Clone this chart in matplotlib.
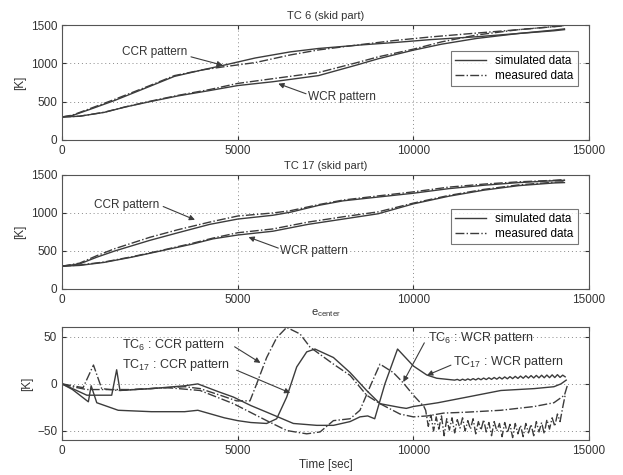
import numpy as np
import matplotlib
matplotlib.use("Agg")
import matplotlib.pyplot as plt

plt.rcParams['font.family'] = ['Liberation Sans', 'DejaVu Sans']
plt.rcParams['mathtext.default'] = 'regular'
plt.rcParams['font.size'] = 8.5

# ---- data ----
# TC 6 (skid part)
t1c = [0, 300, 800, 1500, 2500, 3200, 4000, 4600, 5500, 6500, 7300, 8500, 9500, 10500, 11800, 13000, 14000, 14300]
tc6_ccr_sim = [300, 320, 400, 516, 700, 830, 915, 975, 1070, 1150, 1194, 1240, 1273, 1310, 1347, 1390, 1434, 1450]
tc6_ccr_meas = [300, 325, 410, 530, 710, 840, 915, 955, 1010, 1110, 1175, 1245, 1300, 1345, 1395, 1440, 1480, 1495]
t1w = [0, 500, 1200, 1800, 2500, 3300, 4200, 5000, 6000, 7300, 8400, 9000, 10000, 10800, 11800, 13000, 14000, 14300]
tc6_wcr_sim = [300, 310, 360, 430, 500, 575, 645, 710, 760, 840, 980, 1060, 1172, 1250, 1325, 1390, 1425, 1440]
tc6_wcr_meas = [300, 310, 362, 432, 505, 582, 658, 738, 800, 880, 1010, 1085, 1185, 1280, 1370, 1440, 1478, 1490]

# TC 17 (skid part)
t2c = [0, 500, 1000, 1500, 2500, 3300, 4200, 5000, 6000, 6500, 7300, 8000, 9000, 10000, 11000, 12000, 13000, 14000, 14300]
tc17_ccr_sim = [300, 330, 420, 500, 640, 740, 850, 920, 970, 1010, 1100, 1160, 1210, 1260, 1320, 1365, 1400, 1425, 1430]
tc17_ccr_meas = [300, 340, 440, 530, 680, 780, 880, 960, 1000, 1030, 1110, 1170, 1225, 1278, 1340, 1380, 1410, 1430, 1440]
t2w = [0, 500, 1200, 2000, 2800, 3700, 4300, 5000, 6000, 7000, 8000, 9000, 10000, 11000, 12000, 13000, 14000, 14300]
tc17_wcr_sim = [300, 310, 350, 420, 500, 590, 660, 710, 760, 850, 920, 990, 1120, 1220, 1300, 1360, 1395, 1400]
tc17_wcr_meas = [300, 315, 355, 425, 505, 600, 670, 740, 790, 880, 950, 1015, 1130, 1230, 1310, 1370, 1405, 1410]

# e_center : differences
t_tc17_ccr = [0, 300, 750, 830, 990, 1600, 2546, 3490, 3866, 4620, 5000, 5375, 5825, 6110, 6395, 6680, 6965,
              7200, 7725, 8200, 8670, 9050, 9620, 9800, 10000, 10700, 11530, 12490, 13440, 14000, 14200, 14350]
e_tc17_ccr = [0, -6, -19, -2, -20, -28, -29.5, -29.5, -28, -36, -39, -41, -42, -37, -14, 18, 34,
              37, 28, 12, -7, -21, -25, -26, -24, -20, -14, -7, -5, -3, 0, 4]

t_tc17_wcr = [0, 300, 707, 1415, 1556, 1650, 2546, 3490, 3866, 4430, 4880, 5375, 5825, 6585, 7250, 7725,
              8200, 8480, 8700, 8900, 9190, 9550, 10000, 10380, 10665, 11175,
              11250, 11325, 11400, 11475, 11550, 11625, 11700, 11775, 11850, 11925, 12000, 12075, 12150,
              12225, 12300, 12375, 12450, 12525, 12600, 12675, 12750, 12825, 12900, 12975, 13050, 13125,
              13200, 13275, 13350, 13425, 13500, 13575, 13650, 13725, 13800, 13875, 13950, 14025, 14100,
              14175, 14250, 14320]
e_tc17_wcr = [0, -5, -12, -12, 15, -7, -5, -2, 0, -8, -14, -23, -30, -42, -44, -44,
              -40, -35, -34, -37, 0, 37, 19, 9.5, 6, 4,
              4.8, 3.6, 5.0, 3.8, 5.3, 4.0, 5.6, 4.2, 5.9, 4.4, 6.2, 4.6, 6.5,
              4.8, 6.8, 5.0, 7.1, 5.2, 7.4, 5.4, 7.7, 5.6, 8.0, 5.8, 8.3, 6.0,
              8.6, 6.2, 8.8, 6.3, 9.0, 6.4, 9.2, 6.5, 9.4, 6.6, 9.6, 6.7, 9.8,
              6.9, 9.3, 7.5]

t_tc6_ccr = [0, 300, 600, 896, 1130, 1600, 2500, 3500, 3930, 4500, 4970, 5350, 5540, 5825, 6110, 6395,
             6775, 7060, 7725, 8200, 8670, 9050, 9620, 10000, 10400, 10860, 11530, 12490, 13440, 14000,
             14300, 14380]
e_tc6_ccr = [0, -2, -4, 20, -5, -7, -5, -3, -5, -12, -18, -18, 0, 28, 49, 60,
             53, 39, 21, 9, -12, -21, -32, -35, -34, -31, -30, -28, -24, -20,
             -12, -2]

t_tc6_wcr = [0, 300, 700, 1200, 2000, 3000, 3930, 4880, 5825, 6395, 6965, 7345, 7725, 8200, 8480, 8766,
             9050, 9430, 9715, 10000, 10300,
             10350, 10425, 10500, 10575, 10650, 10725, 10800, 10875, 10950, 11025, 11100, 11175, 11250,
             11325, 11400, 11475, 11550, 11625, 11700, 11775, 11850, 11925, 12000, 12075, 12150, 12225,
             12300, 12375, 12450, 12525, 12600, 12675, 12750, 12825, 12900, 12975, 13050, 13125, 13200,
             13275, 13350, 13425, 13500, 13575, 13650, 13725, 13800, 13875, 13950, 14025, 14100, 14175,
             14250, 14320]
e_tc6_wcr = [0, -3, -6, -6, -6, -4, -7, -21, -39, -49.5, -53, -51, -39, -37, -28, -3,
             21, 12, 1, -12, -24,
             -28, -45, -33, -50, -35, -48, -34, -55, -37, -49, -36, -52, -38,
             -47, -36, -50, -39, -48, -37, -53, -40, -49, -38, -51, -41, -55,
             -40, -50, -42, -56, -41, -52, -43, -57, -42, -53, -44, -56, -42,
             -52, -43, -55, -40, -51, -41, -53, -38, -48, -36, -45, -32, -40,
             -25, -12]

xticks = [0, 5000, 10000, 15000]
kticks = [0, 500, 1000, 1500]
eticks = [-50, 0, 50]

# ---- styling ----
lc = '#3c3c3c'
tc = '#333333'
lw = 1.0

fig = plt.figure(figsize=(6.23, 4.75), dpi=100)
ax1 = fig.add_axes([0.0995, 0.7053, 0.846, 0.242])
ax2 = fig.add_axes([0.0995, 0.3916, 0.846, 0.240])
ax3 = fig.add_axes([0.0995, 0.0728, 0.846, 0.238])


def style(ax, yt, ylim):
    ax.set_xlim(0, 15000)
    ax.set_ylim(*ylim)
    ax.set_xticks(xticks)
    ax.set_yticks(yt)
    ax.grid(True, linestyle=(0, (1, 3)), color='#8a8a8a', linewidth=0.7)
    ax.tick_params(direction='in', length=3, colors=tc, labelsize=8.5, top=True, right=True)
    for s in ax.spines.values():
        s.set_color('#555555')
        s.set_linewidth(0.8)
    ax.set_ylabel('[K]', color=tc, labelpad=3)


def arrow(ax, tip, tail):
    ax.annotate('', xy=tip, xytext=tail,
                arrowprops=dict(arrowstyle='-|>', color=lc, lw=0.8, mutation_scale=8,
                                shrinkA=0, shrinkB=0))


# panel 1
ax1.plot(t1c, tc6_ccr_sim, '-', color=lc, lw=lw, label='simulated data')
ax1.plot(t1c, tc6_ccr_meas, '-.', color=lc, lw=lw, label='measured data')
ax1.plot(t1w, tc6_wcr_sim, '-', color=lc, lw=lw)
ax1.plot(t1w, tc6_wcr_meas, '-.', color=lc, lw=lw)
style(ax1, kticks, (0, 1500))
ax1.set_title('TC 6 (skid part)', color=tc, fontsize=8, pad=4)
ax1.text(3560, 1150, 'CCR pattern', ha='right', va='center', color=tc)
arrow(ax1, (4574, 975), (3671, 1085))
ax1.text(7000, 560, 'WCR pattern', ha='left', va='center', color=tc)
arrow(ax1, (6156, 735), (6946, 603))
leg = ax1.legend(loc='upper right', bbox_to_anchor=(0.99, 0.826), fontsize=8.5, fancybox=False,
                 edgecolor='#555555', handlelength=2.6, borderpad=0.35, labelspacing=0.25)
leg.get_frame().set_linewidth(0.8)

# panel 2
ax2.plot(t2c, tc17_ccr_sim, '-', color=lc, lw=lw, label='simulated data')
ax2.plot(t2c, tc17_ccr_meas, '-.', color=lc, lw=lw, label='measured data')
ax2.plot(t2w, tc17_wcr_sim, '-', color=lc, lw=lw)
ax2.plot(t2w, tc17_wcr_meas, '-.', color=lc, lw=lw)
style(ax2, kticks, (0, 1500))
ax2.set_title('TC 17 (skid part)', color=tc, fontsize=8, pad=4)
ax2.text(2770, 1106, 'CCR pattern', ha='right', va='center', color=tc)
arrow(ax2, (3784, 910), (2880, 1085))
ax2.text(6212, 494, 'WCR pattern', ha='left', va='center', color=tc)
arrow(ax2, (5309, 682), (6156, 538))
leg = ax2.legend(loc='upper right', bbox_to_anchor=(0.99, 0.752), fontsize=8.5, fancybox=False,
                 edgecolor='#555555', handlelength=2.6, borderpad=0.35, labelspacing=0.25)
leg.get_frame().set_linewidth(0.8)

# panel 3
ax3.plot(t_tc17_ccr, e_tc17_ccr, '-', color=lc, lw=lw)
ax3.plot(t_tc17_wcr, e_tc17_wcr, '-', color=lc, lw=lw)
ax3.plot(t_tc6_ccr, e_tc6_ccr, '-.', color=lc, lw=lw)
ax3.plot(t_tc6_wcr, e_tc6_wcr, '-.', color=lc, lw=lw)
style(ax3, eticks, (-60, 60))
ax3.set_title('e$_{center}$', color=tc, fontsize=8, pad=9)
ax3.set_xlabel('Time [sec]', color=tc, labelpad=1)
ax3.text(1694, 41, 'TC$_{6}$ : CCR pattern', ha='left', va='center', color=tc, fontsize=9)
ax3.text(1694, 20, 'TC$_{17}$ : CCR pattern', ha='left', va='center', color=tc, fontsize=9)
arrow(ax3, (5648, 22.3), (4913, 39.4))
arrow(ax3, (6495, -9.6), (4970, 14.5))
ax3.text(10420, 48.2, 'TC$_{6}$ : WCR pattern', ha='left', va='center', color=tc, fontsize=9)
ax3.text(11126, 23.4, 'TC$_{17}$ : WCR pattern', ha='left', va='center', color=tc, fontsize=9)
arrow(ax3, (9714, 2), (10312, 43.6))
arrow(ax3, (10391, 9.2), (11069, 19.9))

fig.savefig('out.png', dpi=100)
